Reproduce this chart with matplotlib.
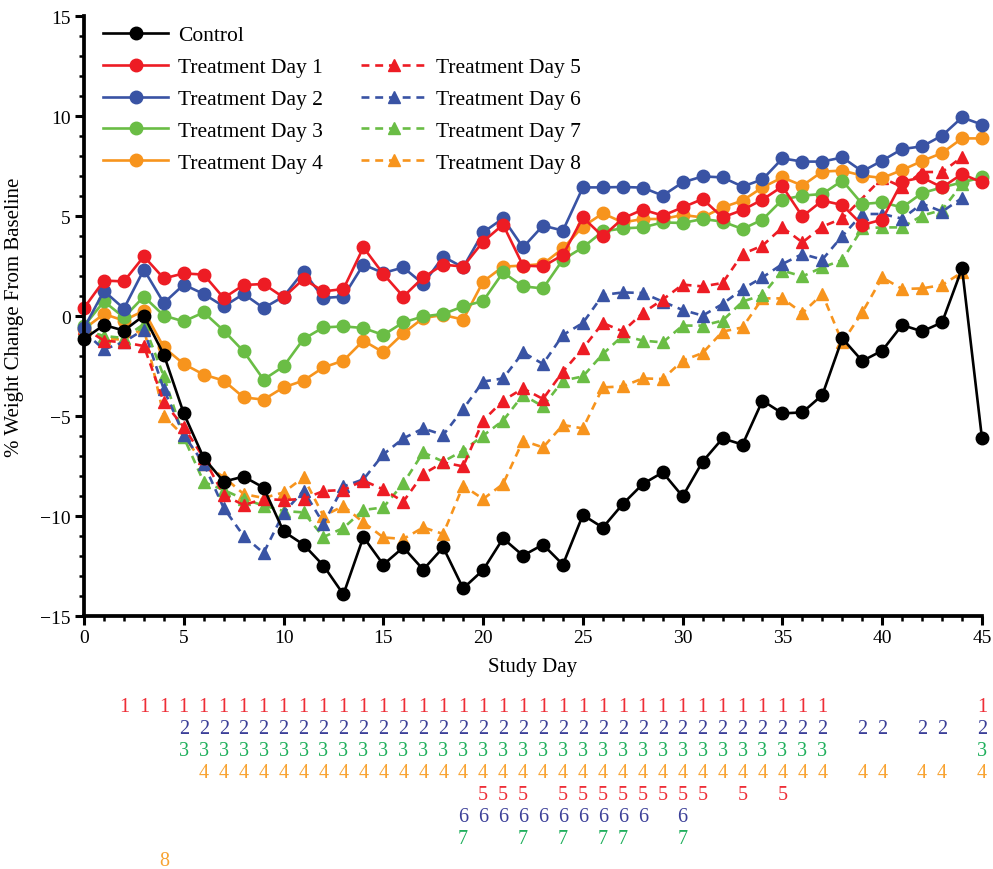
import numpy as np
import matplotlib.pyplot as plt
import matplotlib.transforms as mtransforms
from matplotlib.lines import Line2D
from matplotlib.ticker import MultipleLocator

plt.rcParams['font.family'] = ['Liberation Serif', 'DejaVu Serif']
plt.rcParams['axes.unicode_minus'] = True

# ---------- data ----------
days = np.arange(46)          # 0..45, solid series
days_dash = np.arange(45)     # 0..44, dashed series

control = [-1.15, -0.45, -0.73, 0.02, -1.93, -4.87, -7.1, -8.28, -8.03, -8.58,
           -10.77, -11.43, -12.48, -13.92, -11.05, -12.43, -11.57, -12.68, -11.57, -13.62,
           -12.7, -11.12, -11.98, -11.43, -12.43, -9.95, -10.58, -9.4, -8.4, -7.82,
           -9.02, -7.28, -6.12, -6.43, -4.23, -4.87, -4.82, -3.95, -1.12, -2.25,
           -1.73, -0.45, -0.77, -0.32, 2.38, -6.12]
td1 = [0.4, 1.77, 1.73, 2.98, 1.88, 2.13, 2.07, 0.9, 1.55, 1.6,
       0.93, 1.85, 1.23, 1.35, 3.43, 2.1, 0.97, 1.93, 2.57, 2.47,
       3.72, 4.57, 2.52, 2.48, 3.05, 4.93, 3.98, 4.88, 5.32, 5.02,
       5.43, 5.85, 4.93, 5.3, 5.82, 6.48, 4.98, 5.77, 5.55, 4.55,
       4.82, 6.72, 6.93, 6.43, 7.1, 6.68]
td2 = [-0.6, 1.25, 0.37, 2.32, 0.65, 1.57, 1.1, 0.48, 1.1, 0.4,
       0.97, 2.22, 0.9, 0.97, 2.57, 2.15, 2.43, 1.6, 2.97, 2.43,
       4.18, 4.88, 3.43, 4.52, 4.27, 6.43, 6.43, 6.45, 6.42, 6.02,
       6.68, 6.98, 6.93, 6.47, 6.83, 7.88, 7.72, 7.72, 7.93, 7.23,
       7.77, 8.35, 8.48, 9.02, 9.93, 9.57]
td3 = [-0.5, 0.73, -0.07, 0.97, 0.02, -0.27, 0.18, -0.73, -1.77, -3.18,
       -2.52, -1.15, -0.57, -0.52, -0.6, -0.95, -0.32, -0.02, 0.1, 0.48,
       0.75, 2.18, 1.48, 1.38, 2.82, 3.43, 4.23, 4.38, 4.43, 4.68,
       4.65, 4.85, 4.72, 4.35, 4.82, 5.82, 6.02, 6.1, 6.77, 5.6,
       5.68, 5.43, 6.15, 6.43, 6.68, 6.93]
td4 = [-0.65, 0.1, -0.23, 0.27, -1.57, -2.4, -2.93, -3.23, -4.07, -4.18,
       -3.57, -3.23, -2.57, -2.23, -1.23, -1.82, -0.87, -0.1, 0.05, -0.18,
       1.72, 2.47, 2.52, 2.6, 3.38, 4.47, 5.13, 4.68, 4.85, 4.85,
       5.05, 4.93, 5.43, 5.77, 6.43, 6.93, 6.52, 7.22, 7.27, 7.02,
       6.9, 7.3, 7.75, 8.15, 8.88, 8.88]
td5 = [-0.6, -1.23, -1.32, -1.5, -4.3, -5.55, -7.1, -8.95, -9.45, -9.15,
       -9.2, -9.15, -8.75, -8.7, -8.23, -8.67, -9.28, -7.9, -7.32, -7.52,
       -5.23, -4.23, -3.62, -4.15, -2.78, -1.62, -0.35, -0.77, 0.15, 0.82,
       1.57, 1.48, 1.65, 3.1, 3.52, 4.43, 3.68, 4.47, 4.88, np.nan,
       6.9, 6.45, 7.2, 7.2, 7.95]
td6 = [-0.8, -1.67, -1.3, -0.68, -3.67, -5.95, -7.38, -9.6, -11.0, -11.85,
       -9.85, -8.73, -10.38, -8.52, -8.17, -6.92, -6.12, -5.62, -5.95, -4.65,
       -3.28, -3.12, -1.82, -2.4, -0.95, -0.35, 1.05, 1.18, 1.15, 0.72,
       0.3, 0.02, 0.6, 1.35, 1.93, 2.6, 3.1, 2.82, 4.0, 5.1,
       5.1, 4.87, 5.62, 5.22, 5.9]
td7 = [-0.7, -1.0, -1.1, -0.4, -3.02, -6.07, -8.3, -8.7, -9.15, -9.48,
       -9.75, -9.82, -11.05, -10.6, -9.7, -9.57, -8.37, -6.82, -7.28, -6.73,
       -5.98, -5.23, -3.95, -4.52, -3.23, -3.02, -1.9, -0.98, -1.23, -1.32,
       -0.48, -0.48, -0.23, 0.72, 1.05, 2.27, 1.98, 2.43, 2.8, 4.38,
       4.43, 4.43, 5.02, 5.3, 6.6]
td8 = [-0.9, -1.1, -1.2, -0.6, -5.0, -6.0, -7.4, -8.05, -8.9, -9.1,
       -8.82, -8.07, -10.0, -9.5, -10.32, -11.07, -11.15, -10.57, -10.9, -8.48,
       -9.15, -8.4, -6.23, -6.57, -5.45, -5.62, -3.57, -3.52, -3.12, -3.15,
       -2.23, -1.85, -0.78, -0.57, 0.88, 0.88, 0.15, 1.1, -1.32, 0.18,
       1.93, 1.35, 1.38, 1.55, 2.18]

# days flagged under the plot for each treatment group
sig1 = [2, 3, 4, 5, 6, 7, 8, 9, 10, 11, 12, 13, 14, 15, 16, 17, 18, 19, 20, 21,
        22, 23, 24, 25, 26, 27, 28, 29, 30, 31, 32, 33, 34, 35, 36, 37, 45]
sig2 = [5, 6, 7, 8, 9, 10, 11, 12, 13, 14, 15, 16, 17, 18, 19, 20, 21, 22, 23, 24,
        25, 26, 27, 28, 29, 30, 31, 32, 33, 34, 35, 36, 37, 39, 40, 42, 43, 45]
sig3 = [5, 6, 7, 8, 9, 10, 11, 12, 13, 14, 15, 16, 17, 18, 19, 20, 21, 22, 23, 24,
        25, 26, 27, 28, 29, 30, 31, 32, 33, 34, 35, 36, 37, 45]
sig4 = [6, 7, 8, 9, 10, 11, 12, 13, 14, 15, 16, 17, 18, 19, 20, 21, 22, 23, 24,
        25, 26, 27, 28, 29, 30, 31, 32, 33, 34, 35, 36, 37, 39, 40, 42, 43, 45]
sig5 = [20, 21, 22, 24, 25, 26, 27, 28, 29, 30, 31, 33, 35]
sig6 = [19, 20, 21, 22, 23, 24, 25, 26, 27, 28, 30]
sig7 = [19, 22, 24, 26, 27, 30]
sig8 = [4]

RED, BLUE, GREEN, ORANGE = '#ED1C24', '#3953A4', '#6ABD45', '#F7941D'
sig_colors = ['#EE2E37', '#3B3F98', '#1FAF5C', '#F8A332',
              '#EE2E37', '#3B3F98', '#1FAF5C', '#F8A332']

# ---------- plot ----------
fig = plt.figure(figsize=(9.93, 8.70), dpi=100)
ax = fig.add_axes([84 / 993, 1 - 617 / 870, (982 - 84) / 993, 600 / 870])

lw = 1.9
ms = 9
dash = (0, (3.0, 2.2))

dashed = [("Treatment Day 5", td5, RED), ("Treatment Day 6", td6, BLUE),
          ("Treatment Day 7", td7, GREEN), ("Treatment Day 8", td8, ORANGE)]
solid = [("Treatment Day 1", td1, RED), ("Treatment Day 2", td2, BLUE),
         ("Treatment Day 3", td3, GREEN), ("Treatment Day 4", td4, ORANGE)]

handles = {}
for name, vals, col in reversed(dashed):
    v = np.asarray(vals, dtype=float)
    ok = np.isfinite(v)
    h, = ax.plot(days_dash[ok], v[ok], linestyle=dash, color=col, lw=lw,
                 marker='^', ms=ms, clip_on=False, label=name)
    handles[name] = h
for name, vals, col in reversed(solid):
    h, = ax.plot(days, vals, '-', color=col, lw=lw, marker='o', ms=ms,
                 clip_on=False, label=name)
    handles[name] = h
h, = ax.plot(days, control, '-', color='black', lw=lw, marker='o', ms=ms,
             clip_on=False, label="Control")
handles["Control"] = h

blank = Line2D([], [], linestyle='none', marker=None, label=' ')
order = ["Control", "Treatment Day 1", "Treatment Day 2", "Treatment Day 3",
         "Treatment Day 4"]
leg_h = [handles[k] for k in order] + [blank] + [handles[n] for n, _, _ in dashed]
leg_l = order + [' '] + [n for n, _, _ in dashed]
ax.legend(leg_h, leg_l, ncol=2, loc='upper left', bbox_to_anchor=(0.012, 0.999),
          frameon=False, fontsize=15.5, handlelength=3.0, handletextpad=0.45,
          columnspacing=1.8, labelspacing=0.55, borderaxespad=0)

ax.set_xlim(0, 45)
ax.set_ylim(-15, 15)
ax.xaxis.set_major_locator(MultipleLocator(5))
ax.xaxis.set_minor_locator(MultipleLocator(1))
ax.yaxis.set_major_locator(MultipleLocator(5))
ax.yaxis.set_minor_locator(MultipleLocator(1))
ax.tick_params(which='major', direction='out', length=6.5, width=2.2, labelsize=14, pad=3)
ax.tick_params(which='minor', direction='out', length=3.5, width=1.8)
for s in ['top', 'right']:
    ax.spines[s].set_visible(False)
for s in ['left', 'bottom']:
    ax.spines[s].set_linewidth(2.7)

ax.set_xlabel("Study Day", fontsize=15, labelpad=8)
ax.set_ylabel("% Weight Change From Baseline", fontsize=15, labelpad=12)

# significance markers under the axis
trans = mtransforms.blended_transform_factory(ax.transData, fig.transFigure)
rows_py = [708, 730, 752, 774, 796, 818, 840, 862]
for i, (sig, col) in enumerate(zip([sig1, sig2, sig3, sig4, sig5, sig6, sig7, sig8],
                                   sig_colors)):
    for d in sig:
        ax.text(d, 1 - rows_py[i] / 870, str(i + 1), transform=trans, color=col,
                fontsize=14.5, ha='center', va='center', clip_on=False)

fig.savefig("out.png", dpi=100)
